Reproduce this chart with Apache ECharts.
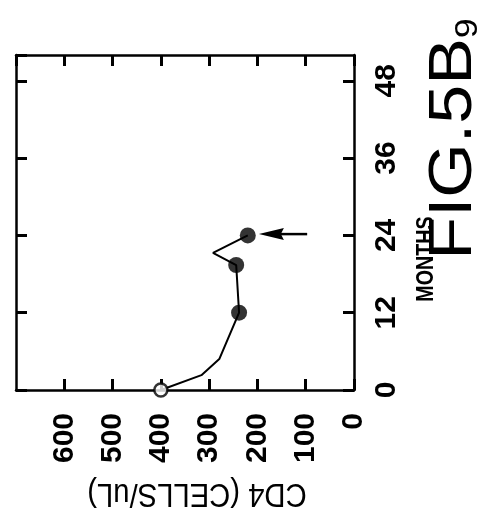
<!DOCTYPE html>
<html><head><meta charset="utf-8">
<script src="https://cdn.jsdelivr.net/npm/echarts@6/dist/echarts.min.js"></script>
<style>html,body{margin:0;padding:0;background:#fff}#c{width:486px;height:529px}</style>
</head><body><div id="c"></div>
<script>
// Data (chart is drawn rotated: months run up the right side, CD4 runs right-to-left along the bottom)
const months = [0, 2.3, 4.8, 12, 19.4, 21.3, 24];
const cd4 = [400, 316, 279, 238, 244, 292, 220];
const marker = ['open', 'none', 'none', 'filled', 'filled', 'none', 'filled'];
const cd4TickLabels = ['0', '100', '200', '300', '400', '500', '600'];
const monthTickLabels = ['0', '12', '24', '36', '48'];
const arrowCD4 = [97, 197];
const arrowMonth = 24.2;
const xTitle = 'CD4 (CELLS/uL)';
const yTitle = 'MONTHS';
const figTitle = 'FIG.5B';
const figSub = '9';

const FONT = "'Liberation Sans', Arial, sans-serif";
const chart = echarts.init(document.getElementById('c'), null, {renderer: 'canvas'});

const linePts = months.map((m, i) => [cd4[i], m]);
const filledPts = months.map((m, i) => marker[i] === 'filled' ? [cd4[i], m] : null).filter(Boolean);
const openPts = months.map((m, i) => marker[i] === 'open' ? [cd4[i], m] : null).filter(Boolean);

const axisLine = {show: true, onZero: false, lineStyle: {color: '#000', width: 2.5}};
const tick = {show: true, inside: true, length: 11, lineStyle: {color: '#000', width: 3}};

chart.setOption({
  animation: false,
  backgroundColor: '#fff',
  grid: {left: 16, right: 132, top: 55, bottom: 139, containLabel: false},
  xAxis: [
    {type: 'value', position: 'bottom', inverse: true, min: 0, max: 700, interval: 100,
     axisLine, axisTick: tick, splitLine: {show: false},
     axisLabel: {show: true, rotate: 90, margin: 23, color: '#000', fontFamily: FONT, fontWeight: 'bold', fontSize: 30,
       showMaxLabel: false,
       formatter: v => cd4TickLabels.includes(String(v)) ? String(v) : ''}},
    {type: 'value', position: 'top', inverse: true, min: 0, max: 700, interval: 100,
     axisLine, axisTick: tick, splitLine: {show: false}, axisLabel: {show: false}}
  ],
  yAxis: [
    {type: 'value', position: 'right', min: 0, max: 52, interval: 12,
     axisLine, axisTick: tick, splitLine: {show: false},
     axisLabel: {show: true, rotate: 90, margin: 18, color: '#000', fontFamily: FONT, fontWeight: 'bold', fontSize: 30,
       showMaxLabel: false,
       formatter: v => monthTickLabels.includes(String(v)) ? String(v) : ''}},
    {type: 'value', position: 'left', min: 0, max: 52, interval: 12,
     axisLine, axisTick: tick, splitLine: {show: false}, axisLabel: {show: false}}
  ],
  series: [
    {type: 'line', xAxisIndex: 0, yAxisIndex: 0, data: linePts, showSymbol: false, symbol: 'none',
     lineStyle: {color: '#000', width: 2}, z: 2},
    {type: 'scatter', xAxisIndex: 0, yAxisIndex: 0, data: filledPts, symbol: 'circle', symbolSize: 16,
     itemStyle: {color: '#000'}, z: 3},
    {type: 'scatter', xAxisIndex: 0, yAxisIndex: 0, data: openPts, symbol: 'circle', symbolSize: 13,
     itemStyle: {color: '#fff', borderColor: '#000', borderWidth: 2.5}, z: 3},
    {type: 'custom', xAxisIndex: 0, yAxisIndex: 0, z: 3,
     data: [[arrowCD4[0], arrowCD4[1], arrowMonth]],
     encode: {x: [0, 1], y: 2},
     renderItem: (params, api) => {
       const p0 = api.coord([api.value(0), api.value(2)]);
       const p1 = api.coord([api.value(1), api.value(2)]);
       const dx = p1[0] - p0[0], dy = p1[1] - p0[1];
       const L = Math.hypot(dx, dy) || 1;
       const ux = dx / L, uy = dy / L;
       const hl = 25, hw = 6;
       const bx = p1[0] - ux * hl, by = p1[1] - uy * hl;
       return {type: 'group', children: [
         {type: 'line', shape: {x1: p0[0], y1: p0[1], x2: bx + ux * 4, y2: by + uy * 4},
          style: {stroke: '#000', lineWidth: 2.5}},
         {type: 'polygon', shape: {points: [[p1[0], p1[1]], [bx - uy * hw, by + ux * hw],
            [bx + ux * 3, by + uy * 3], [bx + uy * hw, by - ux * hw]]}, style: {fill: '#000'}}
       ]};
     }}
  ],
  graphic: [
    {type: 'text', x: 426, y: 259, rotation: Math.PI / 2, scaleX: 0.82,
     style: {text: yTitle, align: 'center', verticalAlign: 'middle', fill: '#000',
       font: "bold 24px 'Liberation Sans', Arial, sans-serif"}},
    {type: 'text', x: 197, y: 493, rotation: Math.PI, scaleX: 0.86,
     style: {text: xTitle, align: 'center', verticalAlign: 'middle', fill: '#000',
       font: "34px 'Liberation Sans', Arial, sans-serif"}},
    {type: 'text', x: 454, y: 139, rotation: Math.PI / 2, scaleY: 0.86,
     style: {text: '{a|' + figTitle + '}{b|' + figSub + '}', align: 'center', verticalAlign: 'middle', fill: '#000',
       rich: {a: {fontSize: 70, fontFamily: FONT, fill: '#000'},
              b: {fontSize: 36, fontFamily: FONT, fill: '#000', verticalAlign: 'bottom'}}}}
  ]
});
</script></body></html>
